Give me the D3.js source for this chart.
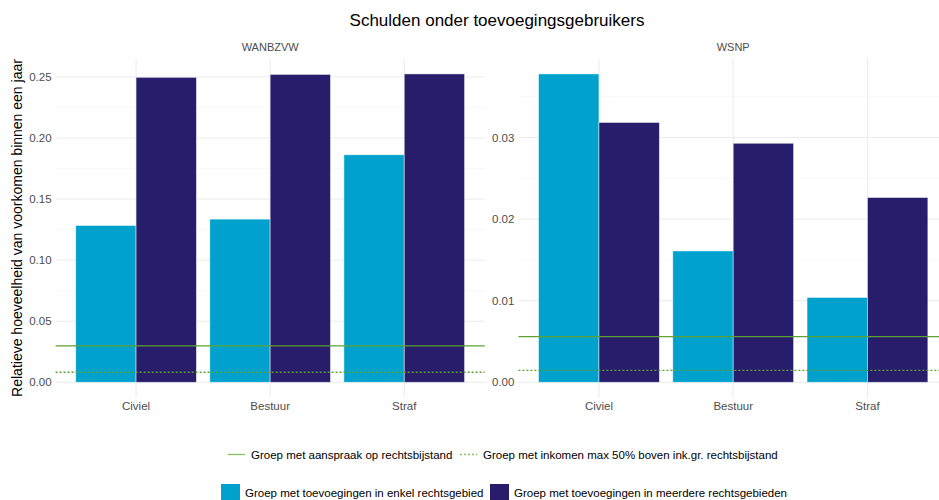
<!DOCTYPE html>
<html lang="en">
<head>
  <meta charset="UTF-8">
  <title>Schulden onder toevoegingsgebruikers</title>
  <script src="https://d3js.org/d3.v7.min.js"></script>
  <style>
    body { margin: 0; background: #fff; }
    svg { font-family: "Liberation Sans", Arial, sans-serif; }
    .tick text { fill: #4d4d4d; font-size: 11.5px; }
  </style>
</head>
<body>
<svg width="939" height="500"></svg>
<script>
// data
const categories = ["Civiel", "Bestuur", "Straf"];
const groups = ["enkel", "meerdere"];
const groupLabels = ["Groep met toevoegingen in enkel rechtsgebied", "Groep met toevoegingen in meerdere rechtsgebieden"];
const panels = ["WANBZVW", "WSNP"];
const wanbzvwEnkel = [0.1284, 0.1336, 0.1863];
const wanbzvwMeerdere = [0.2497, 0.2521, 0.2525];
const wsnpEnkel = [0.0378, 0.0161, 0.0104];
const wsnpMeerdere = [0.03185, 0.0293, 0.02265];
const refAanspraak = [0.0298, 0.0056];   // solid line per panel
const refInkomen = [0.0082, 0.00147];    // dotted line per panel
const leftTicks = [0, 0.05, 0.10, 0.15, 0.20, 0.25];
const rightTicks = [0, 0.01, 0.02, 0.03];

const colors = ["#00a2cd", "#271d6a"];
const green = "#5ea133";

const svg = d3.select("svg");

svg.append("text")
  .attr("x", 497).attr("y", 26)
  .attr("text-anchor", "middle")
  .attr("font-size", 17).attr("fill", "#000")
  .text("Schulden onder toevoegingsgebruikers");

svg.append("text")
  .attr("transform", "translate(22,228) rotate(-90)")
  .attr("text-anchor", "middle")
  .attr("font-size", 14).attr("fill", "#000")
  .text("Relatieve hoeveelheid van voorkomen binnen een jaar");

const panelDefs = [
  { name: panels[0], x0: 55.6, x1: 484.7, vals: [wanbzvwEnkel, wanbzvwMeerdere], ticks: leftTicks, minorStep: 0.025, ref: [refAanspraak[0], refInkomen[0]] },
  { name: panels[1], x0: 518.4, x1: 948, vals: [wsnpEnkel, wsnpMeerdere], ticks: rightTicks, minorStep: 0.005, ref: [refAanspraak[1], refInkomen[1]] }
];

const panelTop = 58.5, panelBottom = 397.7;

panelDefs.forEach(p => {
  const maxV = d3.max(p.vals.flat());
  const pad = maxV * 0.05;
  const y = d3.scaleLinear().domain([-pad, maxV + pad]).range([panelBottom, panelTop]);
  const x = d3.scalePoint().domain(categories).range([p.x0, p.x1]).padding(0.6);
  const bw = x.step() * 0.45;

  const g = svg.append("g");

  // minor grid
  const minors = d3.range(p.minorStep, maxV + pad, p.minorStep * 2);
  g.selectAll(".minor").data(minors).enter().append("line")
    .attr("x1", p.x0).attr("x2", p.x1)
    .attr("y1", d => y(d)).attr("y2", d => y(d))
    .attr("stroke", "#f4f4f4").attr("stroke-width", 0.6);
  // major grid
  g.selectAll(".major").data(p.ticks).enter().append("line")
    .attr("x1", p.x0).attr("x2", p.x1)
    .attr("y1", d => y(d)).attr("y2", d => y(d))
    .attr("stroke", "#ebebeb").attr("stroke-width", 1);
  g.selectAll(".vgrid").data(categories).enter().append("line")
    .attr("x1", d => x(d)).attr("x2", d => x(d))
    .attr("y1", panelTop).attr("y2", panelBottom)
    .attr("stroke", "#ebebeb").attr("stroke-width", 1);

  // bars
  groups.forEach((grp, gi) => {
    g.selectAll(".bar" + gi).data(categories).enter().append("rect")
      .attr("x", d => x(d) - bw + gi * bw)
      .attr("width", bw)
      .attr("y", (d, i) => y(p.vals[gi][i]))
      .attr("height", (d, i) => y(0) - y(p.vals[gi][i]))
      .attr("fill", colors[gi])
      .attr("stroke", "#ffffff").attr("stroke-opacity", 0.6).attr("stroke-width", 0.8);
  });

  // reference lines
  g.append("line")
    .attr("x1", p.x0).attr("x2", p.x1)
    .attr("y1", y(p.ref[0])).attr("y2", y(p.ref[0]))
    .attr("stroke", green).attr("stroke-width", 1.3);
  g.append("line")
    .attr("x1", p.x0).attr("x2", p.x1)
    .attr("y1", y(p.ref[1])).attr("y2", y(p.ref[1]))
    .attr("stroke", green).attr("stroke-width", 1.3)
    .attr("stroke-dasharray", "2,2");

  // axes
  const ya = svg.append("g")
    .attr("transform", `translate(${p.x0 - 2},0)`)
    .call(d3.axisLeft(y).tickValues(p.ticks).tickFormat(d3.format(".2f")).tickSize(0).tickPadding(2));
  ya.select(".domain").remove();

  svg.append("g").selectAll("text").data(categories).enter().append("text")
    .attr("x", d => x(d)).attr("y", 410)
    .attr("text-anchor", "middle")
    .attr("font-size", 11.5).attr("fill", "#4d4d4d")
    .text(d => d);

  svg.append("text")
    .attr("x", x(categories[1]))
    .attr("y", 51)
    .attr("text-anchor", "middle")
    .attr("font-size", 11).attr("fill", "#4d4d4d")
    .text(p.name);
});

// line legend
const lineLegend = [
  { label: "Groep met aanspraak op rechtsbijstand", dash: null, x: 228 },
  { label: "Groep met inkomen max 50% boven ink.gr. rechtsbijstand", dash: "2,2", x: 460 }
];
lineLegend.forEach(d => {
  svg.append("line")
    .attr("x1", d.x).attr("x2", d.x + 17)
    .attr("y1", 454.5).attr("y2", 454.5)
    .attr("stroke", "#86bf5e").attr("stroke-width", 1.3)
    .attr("stroke-dasharray", d.dash);
  svg.append("text")
    .attr("x", d.x + 23).attr("y", 458.5)
    .attr("font-size", 11.5).attr("fill", "#000")
    .text(d.label);
});

// fill legend
const fillX = [221, 490];
groups.forEach((grp, i) => {
  svg.append("rect")
    .attr("x", fillX[i]).attr("y", 484)
    .attr("width", 19).attr("height", 17)
    .attr("fill", colors[i]);
  svg.append("text")
    .attr("x", fillX[i] + 24).attr("y", 497)
    .attr("font-size", 11.5).attr("fill", "#000")
    .text(groupLabels[i]);
});
</script>
</body>
</html>
